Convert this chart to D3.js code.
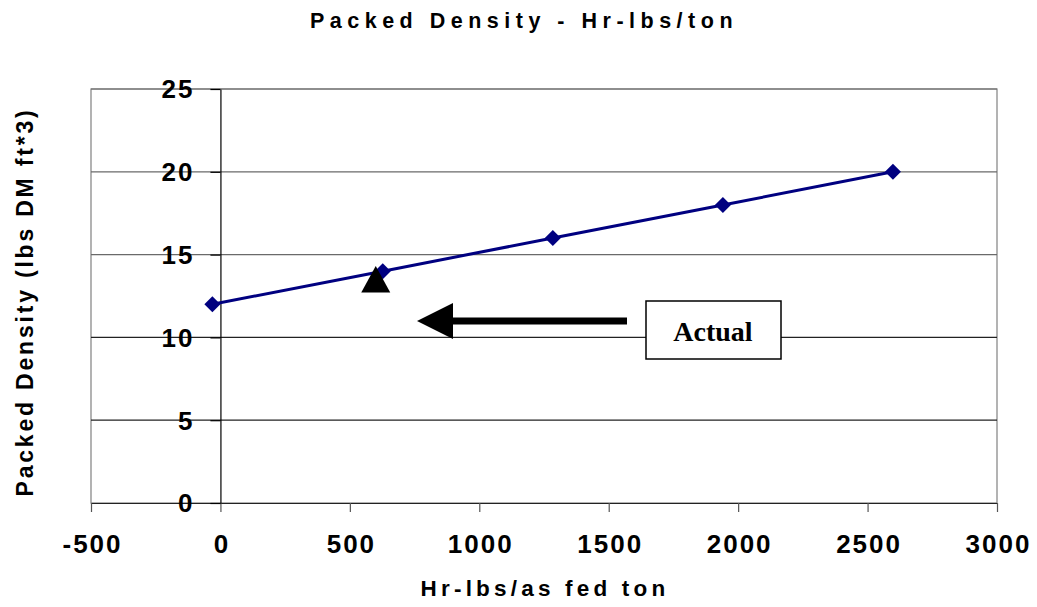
<!DOCTYPE html>
<html>
<head>
<meta charset="utf-8">
<script src="https://cdn.jsdelivr.net/npm/d3@7"></script>
<style>
  body { margin: 0; background: #fff; }
  svg { display: block; font-family: Arial, "Liberation Sans", sans-serif; }
</style>
</head>
<body>
<svg id="chart" width="1037" height="607"></svg>
<script>
// data
const hrLbs = [-31, 627, 1284, 1941, 2598];
const density = [12, 14, 16, 18, 20];
const actualX = [600];
const actualY = [13.5];
const xTicks = [-500, 0, 500, 1000, 1500, 2000, 2500, 3000];
const yTicks = [0, 5, 10, 15, 20, 25];

const svg = d3.select("#chart");
const plotL = 91, plotR = 997, plotT = 89, plotB = 503;

const x = d3.scaleLinear().domain([-500, 3000]).range([plotL, plotR]);
const y = d3.scaleLinear().domain([0, 25]).range([plotB, plotT]);

// plot frame (gray)
svg.append("rect")
  .attr("x", plotL).attr("y", plotT)
  .attr("width", plotR - plotL).attr("height", plotB - plotT)
  .attr("fill", "none").attr("stroke", "#808080").attr("stroke-width", 1.2);

// horizontal gridlines
svg.append("g")
  .selectAll("line")
  .data(yTicks.filter(d => d > 0))
  .enter()
  .append("line")
  .attr("x1", plotL).attr("x2", plotR)
  .attr("y1", d => y(d)).attr("y2", d => y(d))
  .attr("stroke", d => d >= 15 ? "#6a6a6a" : "#222")
  .attr("stroke-width", 1.2);

// x axis at y = 0
const xAxis = svg.append("g")
  .attr("transform", `translate(0, ${y(0)})`)
  .call(d3.axisBottom(x).tickValues(xTicks).tickSize(9).tickSizeOuter(0).tickPadding(23).tickFormat(d => String(d)));
xAxis.select(".domain").attr("stroke", "#222").attr("stroke-width", 1.2);
xAxis.selectAll(".tick line").attr("stroke", "#555").attr("stroke-width", 1.2);
xAxis.selectAll("text")
  .attr("fill", "#000").attr("font-size", 26).attr("font-weight", "bold")
  .attr("letter-spacing", "2px").attr("dx", "1px")
  .attr("font-family", "Arial, 'Liberation Sans', sans-serif");

// y axis at x = 0
const yAxis = svg.append("g")
  .attr("transform", `translate(${x(0)}, 0)`)
  .call(d3.axisLeft(y).tickValues(yTicks).tickSize(10).tickSizeOuter(0).tickPadding(16));
yAxis.select(".domain").attr("stroke", "#000").attr("stroke-width", 1.2);
yAxis.selectAll(".tick line").attr("stroke", "#000").attr("stroke-width", 1.2);
yAxis.selectAll("text")
  .attr("fill", "#000").attr("font-size", 26).attr("font-weight", "bold")
  .attr("letter-spacing", "2px").attr("dy", "0.34em")
  .attr("font-family", "Arial, 'Liberation Sans', sans-serif");

// series line
const pts = hrLbs.map((v, i) => [v, density[i]]);
svg.append("path")
  .datum(pts)
  .attr("fill", "none")
  .attr("stroke", "#000080")
  .attr("stroke-width", 3)
  .attr("d", d3.line().x(d => x(d[0])).y(d => y(d[1])));

// diamond markers
svg.append("g")
  .selectAll("path")
  .data(pts)
  .enter()
  .append("path")
  .attr("transform", d => `translate(${x(d[0])}, ${y(d[1])})`)
  .attr("d", "M0,-8L8,0L0,8L-8,0Z")
  .attr("fill", "#000080");

// actual point (black triangle)
svg.append("g")
  .selectAll("path")
  .data(actualX.map((v, i) => [v, actualY[i]]))
  .enter()
  .append("path")
  .attr("transform", d => `translate(${x(d[0])}, ${y(d[1])})`)
  .attr("d", "M0,-13.5L14.5,13L-14.5,13Z")
  .attr("fill", "#000");

// arrow annotation
const arrowY = 321;
svg.append("line")
  .attr("x1", 627).attr("x2", 450)
  .attr("y1", arrowY).attr("y2", arrowY)
  .attr("stroke", "#000").attr("stroke-width", 7);
svg.append("path")
  .attr("d", `M417,${arrowY}L453,303L453,339Z`)
  .attr("fill", "#000");

// "Actual" box
svg.append("rect")
  .attr("x", 646).attr("y", 301)
  .attr("width", 135).attr("height", 58)
  .attr("fill", "#fff").attr("stroke", "#000").attr("stroke-width", 1.5);
svg.append("text")
  .attr("x", 713).attr("y", 341)
  .attr("text-anchor", "middle")
  .attr("font-family", "'Liberation Serif', 'Times New Roman', serif")
  .attr("font-weight", "bold").attr("font-size", 28)
  .text("Actual");

// titles
svg.append("text")
  .attr("x", 524).attr("y", 28)
  .attr("text-anchor", "middle")
  .attr("font-size", 21.5).attr("font-weight", "bold").attr("letter-spacing", "5.5px")
  .text("Packed Density - Hr-lbs/ton");

svg.append("text")
  .attr("x", 545).attr("y", 596)
  .attr("text-anchor", "middle")
  .attr("font-size", 22.5).attr("font-weight", "bold").attr("letter-spacing", "4.2px")
  .text("Hr-lbs/as fed ton");

svg.append("text")
  .attr("transform", "translate(33, 302) rotate(-90)")
  .attr("text-anchor", "middle")
  .attr("font-size", 23).attr("font-weight", "bold").attr("letter-spacing", "2.8px")
  .text("Packed Density (lbs DM ft*3)");
</script>
</body>
</html>
